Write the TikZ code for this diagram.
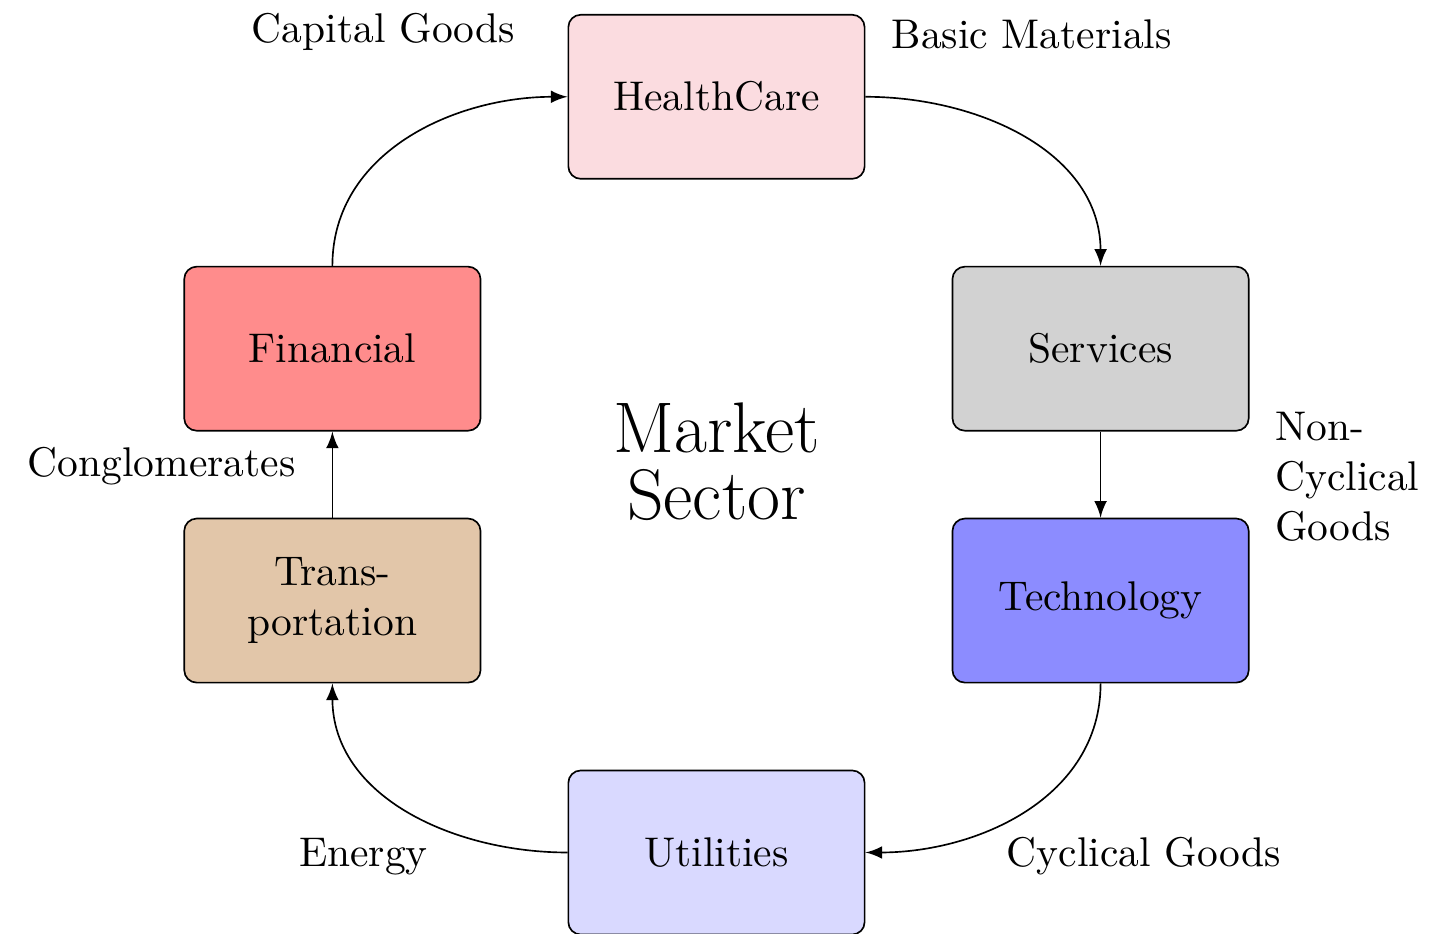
\documentclass[tikz,border=0pt]{standalone}
\usepackage{xcolor}
\usepackage{tikz}
\usetikzlibrary{positioning}
\definecolor{healthpink}{RGB}{251,220,224}
\tikzset{
  sector/.style={rectangle, draw=black, rounded corners=3pt,
    minimum width=2.51cm, minimum height=1.39cm, align=center},
  flow/.style={-latex, color=black},
  tag/.style={anchor=base}
}

\begin{document}
\begin{tikzpicture}
  \useasboundingbox (-6.07,-3.90) rectangle (6.07,4.01);

  % Sectors
  \node[sector, fill=healthpink] (health) at (0,3.19) {HealthCare};
  \node[sector, fill=gray!35, below right=0.73cm and 0.73cm of health] (services) {Services};
  \node[sector, fill=blue!45, below=0.73cm of services] (tech) {Technology};
  \node[sector, fill=blue!15, below left=0.73cm and 0.73cm of tech] (util) {Utilities};
  \node[sector, fill=brown!45, above left=0.73cm and 0.73cm of util] (transport) {Trans-\\portation};
  \node[sector, fill=red!45, above=0.73cm of transport] (financial) {Financial};

  \node[font=\LARGE, align=center] (market) at (0,0.1) {Market\\[-6pt]Sector};

  % Flows
  \draw[flow] (financial.north) to[out=90, in=180] (health.west);
  \draw[flow] (health.east) to[out=0, in=90] (services.north);
  \draw[flow] (services) -- (tech);
  \draw[flow] (tech.south) to[out=-90, in=0] (util.east);
  \draw[flow] (util.west) to[out=180, in=-90] (transport.south);
  \draw[flow] (transport) -- (financial);

  % Labels
  \node[tag] (capital) at (-2.82,3.65) {Capital Goods};
  \node[tag] (basic) at (2.67,3.60) {Basic Materials};
  \node[tag, anchor=west, align=left] (noncyc) at (4.61,-0.03) {Non-\\Cyclical\\Goods};
  \node[tag] (cyclical) at (3.62,-3.33) {Cyclical Goods};
  \node[tag] (energy) at (-2.99,-3.33) {Energy};
  \node[tag] (conglo) at (-4.70,-0.03) {Conglomerates};
\end{tikzpicture}
\end{document}
